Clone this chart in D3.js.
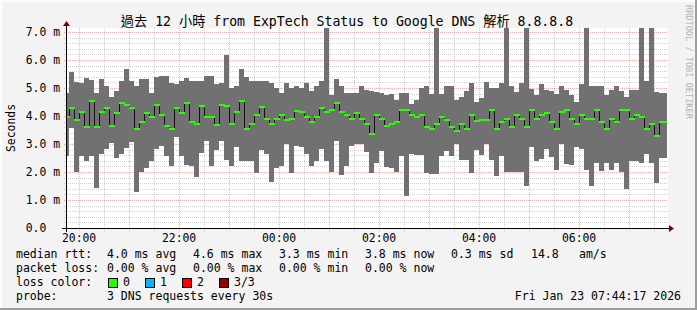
<!DOCTYPE html>
<html>
<head>
<meta charset="utf-8">
<script src="https://cdn.jsdelivr.net/npm/d3@7"></script>
<style>
  html, body { margin: 0; padding: 0; background: #f3f3f3; }
  svg text { font-family: "DejaVu Sans Mono", "Noto Sans CJK TC", monospace; fill: #000; }
</style>
</head>
<body>
<div id="chart"></div>
<script>
const title = "過去 12 小時 from ExpTech Status to Google DNS 解析 8.8.8.8";
const yAxisLabel = "Seconds";
const watermark = "RRDTOOL / TOBI OETIKER";

// time window: 12 hours, 6 minute buckets
const startTime = Date.UTC(2026, 0, 22, 19, 44, 17);
const endTime = Date.UTC(2026, 0, 23, 7, 44, 17);
const firstBucket = Date.UTC(2026, 0, 22, 19, 42, 0);
const stepMin = 6;

// values in ms, one per bucket
const maxMs = [
  4.82, 5.58, 5.20, 5.18, 5.37, 5.29, 4.82, 5.32, 5.07, 4.67,
  4.89, 5.25, 5.68, 5.25, 5.07, 5.32, 5.32, 4.82, 5.38, 5.43,
  5.43, 5.18, 5.14, 5.25, 5.36, 5.25, 5.25, 5.25, 5.43, 5.43,
  5.14, 5.18, 6.18, 5.00, 5.07, 5.68, 5.39, 5.25, 5.25, 5.25,
  5.25, 5.18, 5.00, 4.82, 5.18, 5.00, 5.07, 5.00, 5.18, 4.89,
  5.07, 5.25, 7.60, 4.75, 5.32, 5.07, 4.83, 4.83, 4.83, 5.07,
  4.93, 4.90, 4.86, 4.83, 4.75, 4.79, 4.57, 4.83, 4.83, 4.43,
  4.57, 5.00, 5.07, 4.79, 7.60, 4.79, 5.07, 5.07, 4.57, 4.69,
  4.90, 5.18, 4.50, 4.64, 5.21, 5.00, 5.00, 5.18, 7.60, 5.07,
  4.86, 5.18, 7.60, 4.96, 4.75, 5.13, 4.93, 4.89, 4.77, 5.07,
  4.93, 4.75, 4.49, 5.13, 7.60, 5.07, 5.07, 5.07, 4.75, 4.93,
  5.07, 4.89, 4.69, 4.93, 4.93, 7.60, 5.25, 7.60, 4.86, 4.82,
  4.82
];
const minMs = [
  2.58, 3.58, 2.00, 2.57, 2.39, 2.57, 1.44, 2.64, 2.82, 3.04,
  2.49, 2.64, 2.86, 3.07, 1.30, 2.00, 2.14, 2.39, 2.82, 2.93,
  2.57, 2.21, 3.25, 2.57, 2.24, 2.20, 1.83, 2.67, 3.10, 2.20,
  2.79, 3.10, 2.43, 2.20, 2.89, 2.39, 2.39, 2.39, 1.95, 2.79,
  2.64, 1.65, 2.14, 2.21, 3.00, 1.95, 2.93, 2.89, 2.65, 2.20,
  2.39, 2.82, 2.39, 2.00, 3.11, 1.89, 2.20, 2.93, 3.00, 3.00,
  2.70, 1.98, 2.33, 2.76, 2.19, 2.15, 2.01, 2.57, 1.14, 2.64,
  2.61, 2.61, 1.98, 1.93, 1.92, 2.57, 2.75, 2.57, 3.00, 2.43,
  2.43, 1.95, 2.80, 2.61, 3.00, 2.43, 1.86, 2.57, 2.01, 2.01,
  2.01, 2.01, 1.50, 2.88, 2.40, 2.45, 2.81, 2.55, 2.07, 3.00,
  2.29, 2.25, 2.88, 2.81, 2.07, 1.50, 2.33, 2.05, 2.31, 2.07,
  2.33, 2.01, 1.39, 2.40, 2.40, 2.33, 2.63, 2.33, 1.60, 2.51,
  2.51
];
const medianMs = [
  4.01, 4.33, 3.89, 4.18, 3.65, 4.57, 3.65, 4.18, 4.33, 3.69,
  4.15, 4.50, 4.42, 4.33, 3.57, 3.83, 4.15, 4.01, 4.43, 4.08,
  3.69, 3.58, 4.33, 4.15, 4.50, 3.82, 3.75, 4.39, 4.01, 4.01,
  3.73, 4.44, 4.39, 3.75, 4.18, 4.57, 3.57, 3.75, 4.07, 4.36,
  3.94, 3.75, 3.94, 4.07, 3.89, 3.94, 4.21, 4.18, 4.01, 3.82,
  4.01, 4.33, 4.18, 4.25, 4.50, 4.18, 4.07, 3.94, 4.15, 3.94,
  3.75, 3.39, 4.07, 3.94, 3.68, 3.75, 3.82, 4.25, 4.25, 4.07,
  4.01, 4.07, 3.64, 3.57, 3.75, 4.01, 3.89, 3.65, 3.50, 3.75,
  3.57, 4.07, 3.86, 3.89, 3.89, 4.25, 3.57, 3.82, 3.94, 3.65,
  4.07, 3.94, 3.65, 4.25, 3.94, 4.07, 4.15, 3.82, 3.57, 4.18,
  4.25, 3.94, 3.75, 4.07, 3.94, 3.94, 4.25, 3.82, 3.57, 3.94,
  3.82, 4.25, 4.25, 3.94, 4.07, 4.01, 3.57, 3.75, 3.32, 3.82,
  3.82
];

// legend
const rttLabel = "median rtt:";
const rttStats = ["4.0 ms avg", "4.6 ms max", "3.3 ms min", "3.8 ms now", "0.3 ms sd", "14.8", "am/s"];
const lossLabel = "packet loss:";
const lossStats = ["0.00 % avg", "0.00 % max", "0.00 % min", "0.00 % now"];
const lossColorLabel = "loss color:";
const lossNames = ["0", "1", "2", "3/3"];
const lossColors = ["#26ff00", "#00b8ff", "#ff0000", "#990000"];
const probeLabel = "probe:";
const probeText = "3 DNS requests every 30s";
const stamp = "Fri Jan 23 07:44:17 2026";

const W = 697, H = 310;
const plotLeft = 66, plotRight = 666, plotTop = 28, plotBottom = 228;

const svg = d3.select("#chart").append("svg")
  .attr("width", W)
  .attr("height", H);

// background + 3d frame
svg.append("rect").attr("width", W).attr("height", H).attr("fill", "#f3f3f3");
svg.append("path").attr("d", `M0,${H}V0H${W}`).attr("fill", "none")
  .attr("stroke", "#fcfcfc").attr("stroke-width", 4);
svg.append("path").attr("d", `M0,${H}H${W}V0`).attr("fill", "none")
  .attr("stroke", "#9e9e9e").attr("stroke-width", 4);

let x = d3.scaleUtc().domain([startTime, endTime]).range([plotLeft, plotRight]);
let y = d3.scaleLinear().domain([0, 7.14]).range([plotBottom, plotTop]);

const bars = maxMs.map((d, i) => {
  let t0 = new Date(firstBucket + i * stepMin * 60000);
  let t1 = new Date(firstBucket + (i + 1) * stepMin * 60000);
  return {t0: t0, t1: t1, max: d, min: minMs[i], med: medianMs[i]};
});

// canvas
svg.append("rect")
  .attr("x", plotLeft).attr("y", plotTop)
  .attr("width", plotRight - plotLeft + 2).attr("height", plotBottom - plotTop)
  .attr("fill", "#fff");

const px = v => Math.round(v) + 0.5;

let grid = svg.append("g").attr("shape-rendering", "crispEdges");
const minorCol = "rgba(128,128,128,0.36)";
const majorCol = "rgba(255,0,0,0.32)";

// horizontal grid
let yMinor = d3.range(0.2, 7.1, 0.2).filter(v => Math.abs(v - Math.round(v)) > 0.01);
let yMajor = d3.range(1, 8).filter(v => v <= 7.0);
grid.selectAll(".yminor").data(yMinor).join("line")
  .attr("x1", plotLeft - 2).attr("x2", plotRight + 2)
  .attr("y1", d => px(y(d))).attr("y2", d => px(y(d)))
  .attr("stroke", minorCol).attr("stroke-dasharray", "1,1");
grid.selectAll(".ymajor").data(yMajor).join("line")
  .attr("x1", plotLeft - 2).attr("x2", plotRight + 2)
  .attr("y1", d => px(y(d))).attr("y2", d => px(y(d)))
  .attr("stroke", majorCol).attr("stroke-dasharray", "1,1");

// vertical grid
let xMinor = d3.utcMinute.every(30).range(new Date(startTime), new Date(endTime))
  .filter(d => d.getUTCMinutes() !== 0);
let xMajor = d3.utcHour.every(1).range(new Date(startTime), new Date(endTime));
grid.selectAll(".xminor").data(xMinor).join("line")
  .attr("x1", d => px(x(d))).attr("x2", d => px(x(d)))
  .attr("y1", plotTop).attr("y2", plotBottom + 3)
  .attr("stroke", minorCol).attr("stroke-dasharray", "1,1");
grid.selectAll(".xmajor").data(xMajor).join("line")
  .attr("x1", d => px(x(d))).attr("x2", d => px(x(d)))
  .attr("y1", plotTop).attr("y2", plotBottom + 3)
  .attr("stroke", majorCol).attr("stroke-dasharray", "1,1");

// data
svg.append("clipPath").attr("id", "plot")
  .append("rect").attr("x", plotLeft + 1).attr("y", plotTop)
  .attr("width", plotRight - plotLeft).attr("height", plotBottom - plotTop);

let plot = svg.append("g").attr("clip-path", "url(#plot)");

plot.append("g").attr("shape-rendering", "crispEdges")
  .selectAll("rect").data(bars).join("rect")
  .attr("x", d => Math.round(x(d.t0)))
  .attr("width", d => Math.round(x(d.t1)) - Math.round(x(d.t0)))
  .attr("y", d => Math.round(y(d.max)))
  .attr("height", d => Math.round(y(d.min)) - Math.round(y(d.max)))
  .attr("fill", "#717171");

let stepPts = bars.map(d => [d.t0, d.med]);
stepPts.push([bars[bars.length - 1].t1, bars[bars.length - 1].med]);
let line = d3.line()
  .curve(d3.curveStepAfter)
  .x(d => Math.round(x(d[0])) + 0.5)
  .y(d => Math.round(y(d[1])) + 0.5);
plot.append("path")
  .datum(stepPts)
  .attr("fill", "none")
  .attr("stroke", "#111")
  .attr("stroke-width", 1)
  .attr("shape-rendering", "crispEdges")
  .attr("d", line);

plot.append("g").attr("shape-rendering", "crispEdges")
  .selectAll("line").data(bars).join("line")
  .attr("x1", d => Math.round(x(d.t0)))
  .attr("x2", d => Math.round(x(d.t1)) + 1)
  .attr("y1", d => Math.round(y(d.med)) + 1)
  .attr("y2", d => Math.round(y(d.med)) + 1)
  .attr("stroke", lossColors[0])
  .attr("stroke-width", 2);

// axes
let axes = svg.append("g").attr("shape-rendering", "crispEdges");
axes.append("line")
  .attr("x1", plotLeft - 4).attr("x2", plotRight + 4)
  .attr("y1", px(y(0))).attr("y2", px(y(0)))
  .attr("stroke", "#000");
axes.append("line")
  .attr("x1", plotLeft + 0.5).attr("x2", plotLeft + 0.5)
  .attr("y1", plotBottom + 4).attr("y2", plotTop - 4)
  .attr("stroke", "#000");
svg.append("path")
  .attr("d", `M${plotRight + 3},${px(y(0)) - 3.5}L${plotRight + 8},${px(y(0))}L${plotRight + 3},${px(y(0)) + 3.5}Z`)
  .attr("fill", "#800000");
svg.append("path")
  .attr("d", `M${plotLeft - 3},${plotTop - 2}L${plotLeft + 0.5},${plotTop - 7}L${plotLeft + 4},${plotTop - 2}Z`)
  .attr("fill", "#800000");

// y tick labels
svg.append("g").selectAll("text").data(d3.range(0, 8)).join("text")
  .attr("x", 60)
  .attr("y", d => y(d) + 4)
  .attr("text-anchor", "end")
  .style("white-space", "pre")
  .attr("font-size", "11.4px")
  .text(d => d === 0 ? "0.0  " : d3.format(".1f")(d) + " m");

// x tick labels
let xLabels = d3.utcHour.every(2).range(new Date(startTime), new Date(endTime));
svg.append("g").selectAll("text").data(xLabels).join("text")
  .attr("x", d => x(d))
  .attr("y", 242)
  .attr("text-anchor", "middle")
  .attr("font-size", "11.4px")
  .text(d => d3.utcFormat("%H:%M")(d));

// title
svg.append("text")
  .attr("x", 347).attr("y", 26)
  .attr("text-anchor", "middle")
  .attr("font-size", "13.2px")
  .text(title);

svg.append("text")
  .attr("transform", `translate(15,${(plotTop + plotBottom) / 2}) rotate(-90)`)
  .attr("text-anchor", "middle")
  .attr("font-size", "11.4px")
  .text(yAxisLabel);

svg.append("text")
  .attr("transform", "translate(686,5) rotate(90)")
  .attr("font-size", "8.6px")
  .style("fill", "#b4b4b4")
  .text(watermark);

// legend
const colX = [107, 193, 279, 365, 451, 531, 579];
let legend = svg.append("g").attr("font-size", "11.5px");
legend.append("text").attr("x", 16).attr("y", 258).text(rttLabel);
legend.selectAll(".rtt").data(rttStats).join("text")
  .attr("x", (d, i) => colX[i]).attr("y", 258).text(d => d);
legend.append("text").attr("x", 16).attr("y", 272).text(lossLabel);
legend.selectAll(".loss").data(lossStats).join("text")
  .attr("x", (d, i) => colX[i]).attr("y", 272).text(d => d);
legend.append("text").attr("x", 16).attr("y", 286).text(lossColorLabel);
lossNames.forEach((n, i) => {
  let bx = 108 + i * 37;
  legend.append("rect")
    .attr("x", bx + 0.5).attr("y", 278.5)
    .attr("width", 9).attr("height", 9)
    .attr("fill", lossColors[i]).attr("stroke", "#000")
    .attr("shape-rendering", "crispEdges");
  legend.append("text").attr("x", bx + 15).attr("y", 286).text(n);
});
legend.append("text").attr("x", 16).attr("y", 300).text(probeLabel);
legend.append("text").attr("x", 107).attr("y", 300).text(probeText);
legend.append("text").attr("x", 681).attr("y", 300).attr("text-anchor", "end").text(stamp);
</script>
</body>
</html>
